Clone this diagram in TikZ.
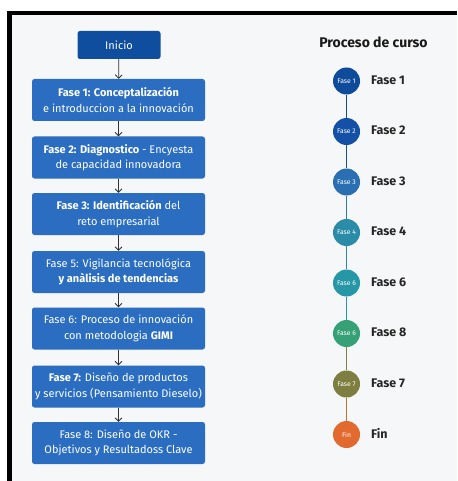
\documentclass[tikz,border=0pt]{standalone}
\usepackage{fontspec}
\setmainfont{Fira Sans}
\usetikzlibrary{arrows.meta}
\definecolor{bg}{HTML}{F6F7F9}
\definecolor{boxblue}{HTML}{2B6EC1}
\definecolor{darkblue}{HTML}{0F4E9F}
\definecolor{cA}{HTML}{0E4B9B}
\definecolor{cB}{HTML}{1350A6}
\definecolor{cC}{HTML}{2B6FB3}
\definecolor{cD}{HTML}{2A8CA6}
\definecolor{cE}{HTML}{2697A6}
\definecolor{cF}{HTML}{36A076}
\definecolor{cG}{HTML}{7E7E40}
\definecolor{cH}{HTML}{E26A2E}
\begin{document}
\begin{tikzpicture}[x=1pt,y=-1pt,
  phasebox/.style={fill=boxblue, rounded corners=2.5pt, minimum width=173pt, minimum height=42pt,
    text=white, align=center, font=\fontsize{11}{15.5}\selectfont, inner sep=0pt},
  startbox/.style={phasebox, fill=darkblue, minimum width=83pt, minimum height=28pt},
  flow/.style={draw=black!80, line width=0.75pt, -{Straight Barb[length=3.5pt,width=7pt]}},
  dot/.style={circle, minimum size=27pt, inner sep=0pt, text=white, font=\fontsize{6.8}{7}\selectfont},
  dotlabel/.style={anchor=west, font=\fontsize{12.5}{14}\selectfont\bfseries, text=black!85, inner sep=0pt},
  link/.style={line width=1.3pt}]
\useasboundingbox (0,0) rectangle (457,481);
\fill[white] (0,0) rectangle (457,481);
\fill[bg] (12,15) rectangle (457,481);
\fill[black] (7,11) rectangle (457,15);
\fill[black] (7,11) rectangle (12,481);

% left flow
\node[startbox] (ini) at (119,45) {Inicio};
\node[phasebox] (f1) at (118.5,100) {\textbf{Fase 1: Conceptalización}\\e introduccion a la innovación};
\node[phasebox] (f2) at (118.5,157.5) {\textbf{Fase 2: Diagnostico} - Encyesta\\de capacidad innovadora};
\node[phasebox] (f3) at (118.5,214) {\textbf{Fase 3: Identificación} del\\reto empresarial};
\node[phasebox] (f5) at (118.5,272) {Fase 5: Vigilancia tecnológica\\\textbf{y anàlisis de tendencias}};
\node[phasebox] (f6) at (118.5,328.5) {Fase 6: Proceso de innovación\\con metodologia \textbf{GIMI}};
\node[phasebox] (f7) at (118.5,386.5) {\textbf{Fase 7:} Diseño de productos\\y servicios (Pensamiento Dieselo)};
\node[phasebox] (f8) at (118.5,443) {Fase 8: Diseño de OKR -\\Objetivos y Resultadoss Clave};
\draw[flow] (ini) -- (f1);
\draw[flow] (f1) -- (f2);
\draw[flow] (f2) -- (f3);
\draw[flow] (f3) -- (f5);
\draw[flow] (f5) -- (f6);
\draw[flow] (f6) -- (f7);
\draw[flow] (f7) -- (f8);

% right timeline
\node[font=\fontsize{14}{16}\selectfont\bfseries, text=black!90] (title) at (373.5,42) {Proceso de curso};
\node[dot, fill=cA] (d1) at (346.5,81) {Fase 1};
\node[dot, fill=cB] (d2) at (346.5,131.5) {Fase 2};
\node[dot, fill=cC] (d3) at (346.5,182) {Fase 3};
\node[dot, fill=cD] (d4) at (346.5,232.5) {Fase 4};
\node[dot, fill=cE] (d5) at (346.5,283) {Fase 6};
\node[dot, fill=cF] (d6) at (346.5,333.5) {Fase 6};
\node[dot, fill=cG] (d7) at (346.5,384) {Fase 7};
\node[dot, fill=cH] (d8) at (346.5,434.5) {Fin};
\draw[link, cA] (d1) -- (d2);
\draw[link, cB] (d2) -- (d3);
\draw[link, cC!60!cD] (d3) -- (d4);
\draw[link, cD] (d4) -- (d5);
\draw[link, cE] (d5) -- (d6);
\draw[link, cG] (d6) -- (d7);
\draw[link, cH!60!cG] (d7) -- (d8);
\node[dotlabel] (l1) at (371,80) {Fase 1};
\node[dotlabel] (l2) at (371,130.5) {Fase 2};
\node[dotlabel] (l3) at (371,181) {Fase 3};
\node[dotlabel] (l4) at (371,231.5) {Fase 4};
\node[dotlabel] (l5) at (371,282) {Fase 6};
\node[dotlabel] (l6) at (371,332.5) {Fase 8};
\node[dotlabel] (l7) at (371,383) {Fase 7};
\node[dotlabel] (l8) at (371,433.5) {Fin};
\end{tikzpicture}
\end{document}
